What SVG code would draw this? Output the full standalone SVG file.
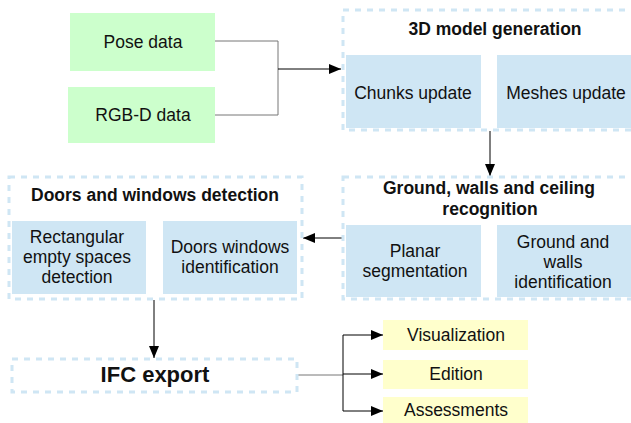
<svg xmlns="http://www.w3.org/2000/svg" width="631" height="423" viewBox="0 0 631 423">
<defs>
<marker id="ah" markerWidth="12" markerHeight="10" refX="12" refY="5" orient="auto" markerUnits="userSpaceOnUse">
<path d="M0,0 L12,5 L0,10 Z" fill="#000"/>
</marker>
<style>
.t{font-family:"Liberation Sans",Arial,sans-serif;font-size:17.5px;fill:#111;text-anchor:middle}
.b{font-weight:bold}
.g{fill:#ccffcc}
.bl{fill:#cfe6f4}
.y{fill:#ffffcc}
.c{fill:none;stroke:#cfe6f4;stroke-width:3;stroke-dasharray:6,6}
.ln{fill:none;stroke:#777;stroke-width:1}
.la{fill:none;stroke:#000;stroke-width:1}
</style>
</defs>
<rect width="631" height="423" fill="#fff"/>
<g id="connectors">
<path class="ln" d="M215,41 H278 V115 H215"/>
<path class="la" d="M278,69 H341" marker-end="url(#ah)"/>
<path class="la" d="M490,131 V176" marker-end="url(#ah)"/>
<path class="la" d="M342,238 H303" marker-end="url(#ah)"/>
<path class="la" d="M154,300 V358" marker-end="url(#ah)"/>
<path class="ln" d="M298,375 H343"/>
<path class="la" d="M343,335 V411"/>
<path class="la" d="M343,335 H383" marker-end="url(#ah)"/>
<path class="la" d="M343,374 H383" marker-end="url(#ah)"/>
<path class="la" d="M343,411 H383" marker-end="url(#ah)"/>
</g>
<g id="pose"><rect class="g" x="70" y="13" width="145" height="58"/><text class="t" x="143" y="48">Pose data</text></g>
<g id="rgbd"><rect class="g" x="68" y="87" width="147" height="56"/><text class="t" x="143" y="121">RGB-D data</text></g>
<g id="model">
<rect class="c" x="343" y="10" width="300" height="120"/>
<text class="t b" x="495" y="35">3D model generation</text>
</g>
<g id="chunks"><rect class="bl" x="346" y="55" width="135" height="73"/><text class="t" x="413" y="99">Chunks update</text></g>
<g id="meshes"><rect class="bl" x="497" y="55" width="140" height="73"/><text class="t" x="566" y="99">Meshes update</text></g>
<g id="ground">
<rect class="c" x="343" y="177" width="300" height="122"/>
<text class="t b" x="489" y="194">Ground, walls and ceiling</text>
<text class="t b" x="490" y="215">recognition</text>
</g>
<g id="planar"><rect class="bl" x="346" y="225" width="135" height="72"/><text class="t" x="415" y="257">Planar</text><text class="t" x="415" y="277">segmentation</text></g>
<g id="gwid"><rect class="bl" x="497" y="225" width="140" height="72"/><text class="t" x="563" y="248">Ground and</text><text class="t" x="563" y="268">walls</text><text class="t" x="563" y="288">identification</text></g>
<g id="doors">
<rect class="c" x="9" y="177" width="293" height="122"/>
<text class="t b" x="155" y="201">Doors and windows detection</text>
</g>
<g id="rect"><rect class="bl" x="12" y="221" width="134" height="73"/><text class="t" x="77" y="243">Rectangular</text><text class="t" x="77" y="263">empty spaces</text><text class="t" x="77" y="283">detection</text></g>
<g id="dwid"><rect class="bl" x="163" y="221" width="134" height="73"/><text class="t" x="230" y="253">Doors windows</text><text class="t" x="230" y="273">identification</text></g>
<g id="ifc">
<rect class="c" x="12" y="359" width="285" height="33"/>
<text class="t b" x="155" y="382" style="font-size:22px">IFC export</text>
</g>
<g id="vis"><rect class="y" x="383" y="320" width="145" height="30"/><text class="t" x="456" y="341">Visualization</text></g>
<g id="edition"><rect class="y" x="383" y="360" width="145" height="29"/><text class="t" x="456" y="380">Edition</text></g>
<g id="assess"><rect class="y" x="383" y="397" width="145" height="26"/><text class="t" x="456" y="416">Assessments</text></g>
</svg>
